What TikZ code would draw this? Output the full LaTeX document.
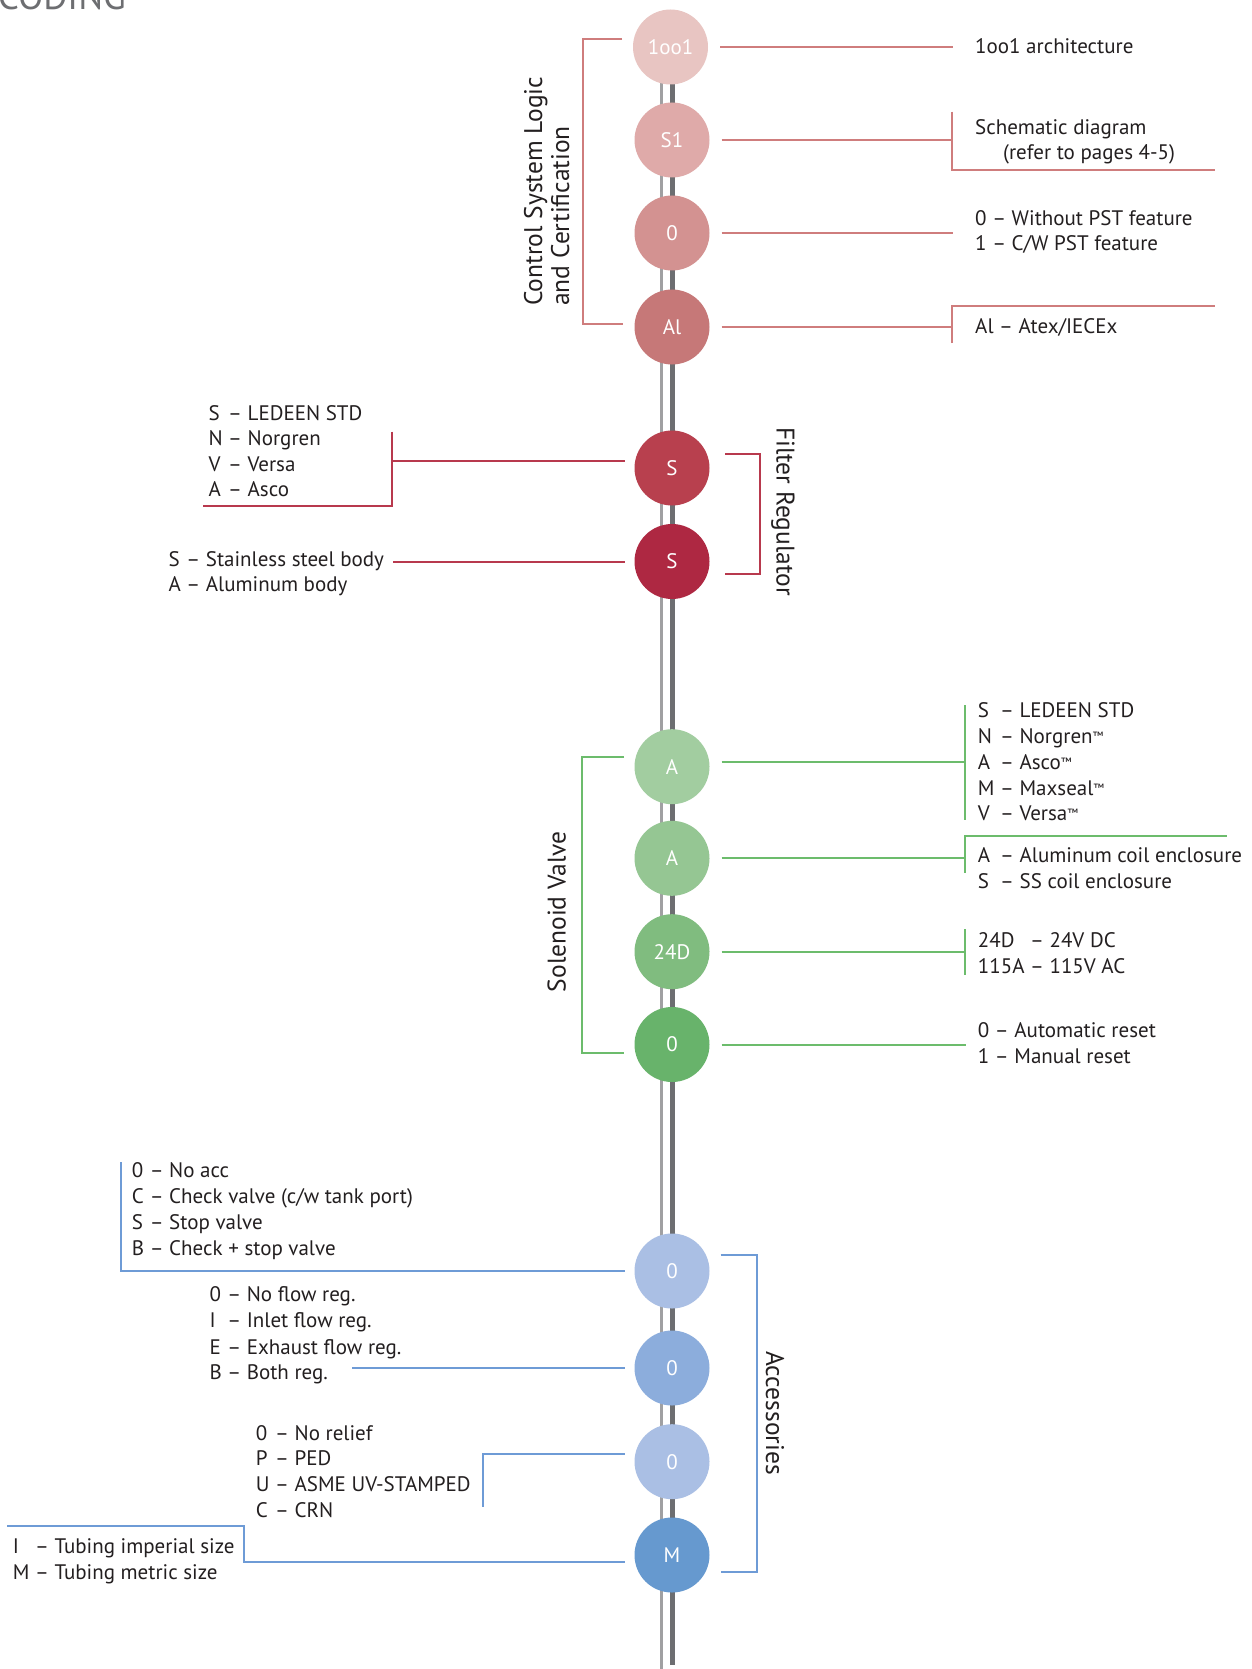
\documentclass[tikz,border=0pt]{standalone}
\usepackage{fontspec}
\setmainfont{PT Sans}
\newlength\cwl
\newcommand\cw[2]{\settowidth\cwl{#1}\makebox[\cwl][l]{#2}}
\newcommand\tm{{\fontsize{12}{12}\selectfont\raisebox{3pt}{™}}}
\newcommand\bodyfont{\fontsize{21}{25.8}\selectfont}
\newcommand\titlefont{\fontsize{25.5}{27}\selectfont}
\definecolor{textc}{HTML}{231F20}
\definecolor{rodd}{HTML}{6D6E71}
\definecolor{rodl}{HTML}{A0A0A2}
\definecolor{topA}{HTML}{E8C5C2}
\definecolor{topB}{HTML}{DFAAA9}
\definecolor{topC}{HTML}{D39291}
\definecolor{topD}{HTML}{C67878}
\definecolor{filA}{HTML}{B8404E}
\definecolor{filB}{HTML}{AE2842}
\definecolor{grA}{HTML}{A2CDA0}
\definecolor{grB}{HTML}{95C693}
\definecolor{grC}{HTML}{80BC7F}
\definecolor{grD}{HTML}{68B36B}
\definecolor{blA}{HTML}{AABFE4}
\definecolor{blB}{HTML}{8CADDC}
\definecolor{blD}{HTML}{6699CF}
\definecolor{redline}{HTML}{CF7D7D}
\definecolor{filline}{HTML}{B8394D}
\definecolor{grline}{HTML}{6CBC6C}
\definecolor{blline}{HTML}{6E9BD6}
\tikzset{
  circ/.style={circle, minimum size=75pt, inner sep=0pt, text=white, font=\bodyfont},
  txt/.style={anchor=base west, inner sep=0pt, text=textc, font=\bodyfont},
  ttl/.style={inner sep=0pt, text=textc, font=\titlefont},
  rl/.style={draw=redline, line width=2pt},
  fl/.style={draw=filline, line width=2pt},
  gl/.style={draw=grline, line width=2pt},
  bl/.style={draw=blline, line width=2pt},
}
\begin{document}
\begin{tikzpicture}[x=1pt,y=-1pt]
\useasboundingbox (0,0) rectangle (1251,1669);
\fill[white] (0,0) rectangle (1251,1669);
% header
\node[anchor=base east, inner sep=0pt, text=rodd, font=\fontsize{37}{40}\selectfont] (hdr) at (126,9.5) {CODING};
% rod
\draw[rodl, line width=3.2pt] (661.7,60) -- (661.7,1669);
\draw[rodd, line width=5pt] (672.5,60) -- (672.5,1665);
% circles
\node[circ, fill=topA] (c1) at (670.5,47) {1oo1};
\node[circ, fill=topB] (c2) at (672,140) {S1};
\node[circ, fill=topC] (c3) at (672,233) {0};
\node[circ, fill=topD] (c4) at (672,327) {Al};
\node[circ, fill=filA] (c5) at (672,468) {S};
\node[circ, fill=filB] (c6) at (672,561.5) {S};
\node[circ, fill=grA] (c7) at (672,766.7) {A};
\node[circ, fill=grB] (c8) at (672,858.3) {A};
\node[circ, fill=grC] (c9) at (672,951.7) {24D};
\node[circ, fill=grD] (c10) at (672,1044.5) {0};
\node[circ, fill=blA] (c11) at (672,1271) {0};
\node[circ, fill=blB] (c12) at (672,1368) {0};
\node[circ, fill=blA] (c13) at (672,1461.7) {0};
\node[circ, fill=blD] (c14) at (672,1555) {M};
% ---------- control system logic
\draw[rl] (622,39) -- (582.7,39) -- (582.7,324) -- (623,324);
\node[ttl, rotate=90, anchor=base west] (tcs1) at (542,306) {Control System Logic};
\node[ttl, rotate=90, anchor=base west] (tcs2) at (569,306) {and Certification};
\coordinate (r1) at (953,47);
\draw[rl] ([xshift=12pt]c1.east) -- (r1);
\coordinate (r2) at (952,140);
\draw[rl] ([xshift=12pt]c2.east) -- (r2);
\draw[rl] (952,111.7) -- (952,170) -- (1215,170);
\coordinate (r3) at (953,233);
\draw[rl] ([xshift=12pt]c3.east) -- (r3);
\coordinate (r4) at (952,327);
\draw[rl] ([xshift=12pt]c4.east) -- (r4);
\draw[rl] (952,343) -- (952,306) -- (1215,306);
\node[txt] (t1) at (975,53.5) {1oo1 architecture};
\node[txt] (t2) at (975,134.5) {Schematic diagram};
\node[txt] (t3) at (1003,159.2) {(refer to pages 4-5)};
\node[txt] (t4) at (975,225.5) {0 – Without PST feature};
\node[txt] (t5) at (975,250.5) {1 – C/W PST feature};
\node[txt] (t6) at (975,333.5) {Al – Atex/IECEx};
% ---------- filter regulator
\coordinate (l5) at (391.7,460.7);
\draw[fl] ([xshift=-9.5pt,yshift=7.3pt]c5.west) -- (l5);
\draw[fl] (391.7,431.7) -- (391.7,505.7) -- (202.7,505.7);
\coordinate (l6) at (393.3,561.5);
\draw[fl] ([xshift=-9.5pt]c6.west) -- (l6);
\draw[fl] (725,454) -- (760.4,454) -- (760.4,574) -- (725,574);
\node[ttl, rotate=-90] (tfr) at (783,511.6) {Filter Regulator};
\node[txt] (t7) at (208.3,420.2) {\cw{N}{S} – LEDEEN STD};
\node[txt] (t8) at (208.3,445.8) {\cw{N}{N} – Norgren};
\node[txt] (t9) at (208.3,471.5) {\cw{N}{V} – Versa};
\node[txt] (t10) at (208.3,496.8) {\cw{N}{A} – Asco};
\node[txt] (t11) at (168.3,566.8) {\cw{A}{S} – Stainless steel body};
\node[txt] (t12) at (168.3,591.8) {\cw{A}{A} – Aluminum body};
% ---------- solenoid valve
\draw[gl] (624,756.7) -- (582.3,756.7) -- (582.3,1053) -- (624,1053);
\node[ttl, rotate=90] (tsv) at (556.7,911.7) {Solenoid Valve};
\coordinate (r7) at (965,761.7);
\draw[gl] ([xshift=12pt,yshift=5pt]c7.east) -- (r7);
\draw[gl] (965,705) -- (965,820);
\coordinate (r8) at (965,858.3);
\draw[gl] ([xshift=12pt]c8.east) -- (r8);
\draw[gl] (965,872.7) -- (965,835.7) -- (1226.7,835.7);
\coordinate (r9) at (965,951.7);
\draw[gl] ([xshift=12pt]c9.east) -- (r9);
\draw[gl] (965,929.3) -- (965,975);
\coordinate (r10) at (966,1044.5);
\draw[gl] ([xshift=12pt]c10.east) -- (r10);
\node[txt] (t13) at (977.7,717.5) {\cw{M}{S} – LEDEEN STD};
\node[txt] (t14) at (977.7,743.2) {\cw{M}{N} – Norgren\tm};
\node[txt] (t15) at (977.7,769.2) {\cw{M}{A} – Asco\tm};
\node[txt] (t16) at (977.7,795.2) {\cw{M}{M} – Maxseal\tm};
\node[txt] (t17) at (977.7,820.8) {\cw{M}{V} – Versa\tm};
\node[txt] (t18) at (977.7,862.5) {\cw{M}{A} – Aluminum coil enclosure};
\node[txt] (t19) at (977.7,888.5) {\cw{M}{S} – SS coil enclosure};
\node[txt] (t20) at (977.7,947.5) {\cw{115A}{24D} – 24V DC};
\node[txt] (t21) at (977.7,973.5) {115A – 115V AC};
\node[txt] (t22) at (977.7,1037.5) {0 – Automatic reset};
\node[txt] (t23) at (977.7,1063.2) {1 – Manual reset};
% ---------- accessories
\draw[bl] (720.7,1255) -- (756.7,1255) -- (756.7,1571.7) -- (720.7,1571.7);
\node[ttl, rotate=-90] (tac) at (775,1413) {Accessories};
\coordinate (l11) at (120.7,1271);
\draw[bl] ([xshift=-9.5pt]c11.west) -- (l11) -- (120.7,1161.7);
\coordinate (l12) at (352.3,1368);
\draw[bl] ([xshift=-9.5pt]c12.west) -- (l12);
\coordinate (l13) at (483.3,1454);
\draw[bl] ([xshift=-9.5pt,yshift=7.7pt]c13.west) -- (l13) -- (483.3,1507.3);
\coordinate (l14) at (244,1561.7);
\draw[bl] ([xshift=-9.5pt,yshift=-6.7pt]c14.west) -- (l14) -- (244,1525.7) -- (7.3,1525.7);
\node[txt] (t24) at (131.7,1177.5) {\cw{B}{0} – No acc};
\node[txt] (t25) at (131.7,1203.2) {\cw{B}{C} – Check valve (c/w tank port)};
\node[txt] (t26) at (131.7,1229.2) {\cw{B}{S} – Stop valve};
\node[txt] (t27) at (131.7,1255.8) {\cw{B}{B} – Check + stop valve};
\node[txt] (t28) at (209.3,1301.5) {\cw{B}{0} – No flow reg.};
\node[txt] (t29) at (209.3,1327.5) {\cw{B}{I} – Inlet flow reg.};
\node[txt] (t30) at (209.3,1354.2) {\cw{B}{E} – Exhaust flow reg.};
\node[txt] (t31) at (209.3,1379.2) {\cw{B}{B} – Both reg.};
\node[txt] (t32) at (255.7,1440.2) {\cw{U}{0} – No relief};
\node[txt] (t33) at (255.7,1465.8) {\cw{U}{P} – PED};
\node[txt] (t34) at (255.7,1491.8) {\cw{U}{U} – ASME UV-STAMPED};
\node[txt] (t35) at (255.7,1517.5) {\cw{U}{C} – CRN};
\node[txt] (t36) at (12.7,1553.5) {\cw{M}{I} – Tubing imperial size};
\node[txt] (t37) at (12.7,1579.2) {\cw{M}{M} – Tubing metric size};
\end{tikzpicture}
\end{document}
